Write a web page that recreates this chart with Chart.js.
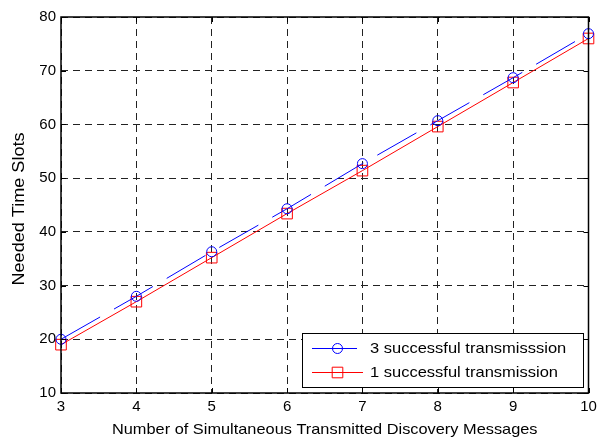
<!DOCTYPE html>
<html>
<head>
<meta charset="utf-8">
<script src="https://cdn.jsdelivr.net/npm/chart.js@4/dist/chart.umd.min.js"></script>
<style>
  html, body { margin: 0; padding: 0; background: #fff; }
  canvas { display: block; }
</style>
</head>
<body>
<canvas id="chart" width="597" height="440"></canvas>
<script>
// Number of discovery messages sent at the same time
const messageCounts = [3, 4, 5, 6, 7, 8, 9, 10];
// Time slots needed for three successful transmissions
const slotsThreeSuccess = [20, 28, 36.3, 44.3, 52.7, 60.7, 68.7, 76.9];
// Time slots needed for one successful transmission
const slotsOneSuccess = [19, 27, 35.2, 43.4, 51.4, 59.6, 67.8, 76];
const yTickValues = [10, 20, 30, 40, 50, 60, 70, 80];
const seriesLabels = ['3 successful transmisssion', '1 successful transmission'];
const xTitle = 'Number of Simultaneous Transmitted Discovery Messages';
const yTitle = 'Needed Time Slots';

const FONT = '"Liberation Sans", Arial, sans-serif';

// Text helper: optional horizontal stretch and rotation
function drawText(ctx, text, x, y, o) {
  ctx.save();
  ctx.translate(x, y);
  if (o.rotate) ctx.rotate(o.rotate);
  ctx.scale(o.sx || 1, 1);
  ctx.font = o.size + 'px ' + FONT;
  ctx.fillStyle = '#000';
  ctx.textAlign = o.align || 'center';
  ctx.textBaseline = 'middle';
  ctx.fillText(text, 0, 0);
  ctx.restore();
}

// Tick labels and axis titles
const axisText = {
  id: 'axisText',
  afterDraw(chart) {
    const { ctx, chartArea: a, scales: { x, y } } = chart;
    messageCounts.forEach(v => {
      drawText(ctx, String(v), x.getPixelForValue(v), a.bottom + 14, { size: 15 });
    });
    yTickValues.forEach(v => {
      drawText(ctx, String(v), a.left - 5, y.getPixelForValue(v), { size: 15, align: 'right' });
    });
    drawText(ctx, xTitle, (a.left + a.right) / 2, 429.5, { size: 15, sx: 1.09 });
    drawText(ctx, yTitle, 19.5, 209, { size: 16, sx: 1.13, rotate: -Math.PI / 2 });
  }
};

// Box around the plot area with inward tick marks on all four sides
const frameAndTicks = {
  id: 'frameAndTicks',
  afterDatasetsDraw(chart) {
    const { ctx, chartArea: a, scales: { x, y } } = chart;
    ctx.save();
    ctx.strokeStyle = '#000';
    ctx.lineWidth = 1;
    const t = 5;
    ctx.beginPath();
    messageCounts.forEach(v => {
      const px = Math.round(x.getPixelForValue(v)) + 0.5;
      ctx.moveTo(px, a.bottom); ctx.lineTo(px, a.bottom - t);
      ctx.moveTo(px, a.top); ctx.lineTo(px, a.top + t);
    });
    yTickValues.forEach(v => {
      const py = Math.round(y.getPixelForValue(v)) + 0.5;
      ctx.moveTo(a.left, py); ctx.lineTo(a.left + t, py);
      ctx.moveTo(a.right, py); ctx.lineTo(a.right - t, py);
    });
    ctx.stroke();
    ctx.lineWidth = 1.5;
    ctx.strokeRect(a.left, a.top, a.right - a.left, a.bottom - a.top);
    ctx.restore();
  }
};

// Boxed legend in the lower right corner of the plot
const boxedLegend = {
  id: 'boxedLegend',
  afterDraw(chart) {
    const { ctx } = chart;
    const bx = 302, by = 333, bw = 281, bh = 54;
    ctx.save();
    ctx.fillStyle = '#fff';
    ctx.fillRect(bx, by, bw, bh);
    ctx.strokeStyle = '#000';
    ctx.lineWidth = 1;
    ctx.strokeRect(bx + 0.5, by + 0.5, bw, bh);
    chart.data.datasets.forEach((ds, i) => {
      const cy = by + 15 + i * 24;
      ctx.strokeStyle = ds.borderColor;
      ctx.lineWidth = 1;
      ctx.setLineDash(ds.borderDash || []);
      ctx.beginPath();
      ctx.moveTo(312, cy + 0.5);
      ctx.lineTo(363, cy + 0.5);
      ctx.stroke();
      ctx.setLineDash([]);
      ctx.fillStyle = 'rgba(0,0,0,0)';
      Chart.helpers.drawPoint(ctx, {
        pointStyle: ds.pointStyle,
        radius: ds.pointRadius,
        borderWidth: 1
      }, 337.5, cy + 0.5);
      drawText(ctx, ds.label, 370, cy + 1, { size: 15, align: 'left', sx: 1.1 });
    });
    ctx.restore();
  }
};

new Chart(document.getElementById('chart'), {
  type: 'line',
  data: {
    datasets: [
      {
        label: seriesLabels[0],
        data: messageCounts.map((m, i) => ({ x: m, y: slotsThreeSuccess[i] })),
        borderColor: '#0000ff',
        backgroundColor: 'rgba(0,0,0,0)',
        borderWidth: 1,
        borderDash: [45, 16],
        pointStyle: 'circle',
        pointRadius: 5,
        pointBorderWidth: 1,
        pointBorderColor: '#0000ff',
        pointBackgroundColor: 'rgba(0,0,0,0)',
        tension: 0,
        clip: false
      },
      {
        label: seriesLabels[1],
        data: messageCounts.map((m, i) => ({ x: m, y: slotsOneSuccess[i] })),
        borderColor: '#ff0000',
        backgroundColor: 'rgba(0,0,0,0)',
        borderWidth: 1,
        pointStyle: 'rect',
        pointRadius: 7.5,
        pointBorderWidth: 1,
        pointBorderColor: '#ff0000',
        pointBackgroundColor: 'rgba(0,0,0,0)',
        tension: 0,
        clip: false
      }
    ]
  },
  options: {
    responsive: false,
    animation: false,
    devicePixelRatio: 1,
    layout: { padding: { left: 0, right: 7, top: 17, bottom: 0 } },
    plugins: {
      legend: { display: false },
      tooltip: { enabled: false }
    },
    scales: {
      x: {
        type: 'linear',
        min: 3,
        max: 10,
        afterBuildTicks(s) { s.ticks = messageCounts.map(v => ({ value: v })); },
        ticks: { display: false },
        grid: { color: '#222', lineWidth: 1, drawTicks: false },
        border: { display: false, dash: [7, 5] },
        title: { display: false },
        afterFit(s) {
          s.height = 47;
          s.paddingLeft = 0;
          s.paddingRight = 0;
        }
      },
      y: {
        type: 'linear',
        min: 10,
        max: 80,
        afterBuildTicks(s) { s.ticks = yTickValues.map(v => ({ value: v })); },
        ticks: { display: false },
        grid: { color: '#222', lineWidth: 1, drawTicks: false },
        border: { display: false, dash: [7, 5] },
        title: { display: false },
        afterFit(s) {
          s.width = 61;
          s.paddingTop = 0;
          s.paddingBottom = 0;
        }
      }
    }
  },
  plugins: [frameAndTicks, axisText, boxedLegend]
});
</script>
</body>
</html>
